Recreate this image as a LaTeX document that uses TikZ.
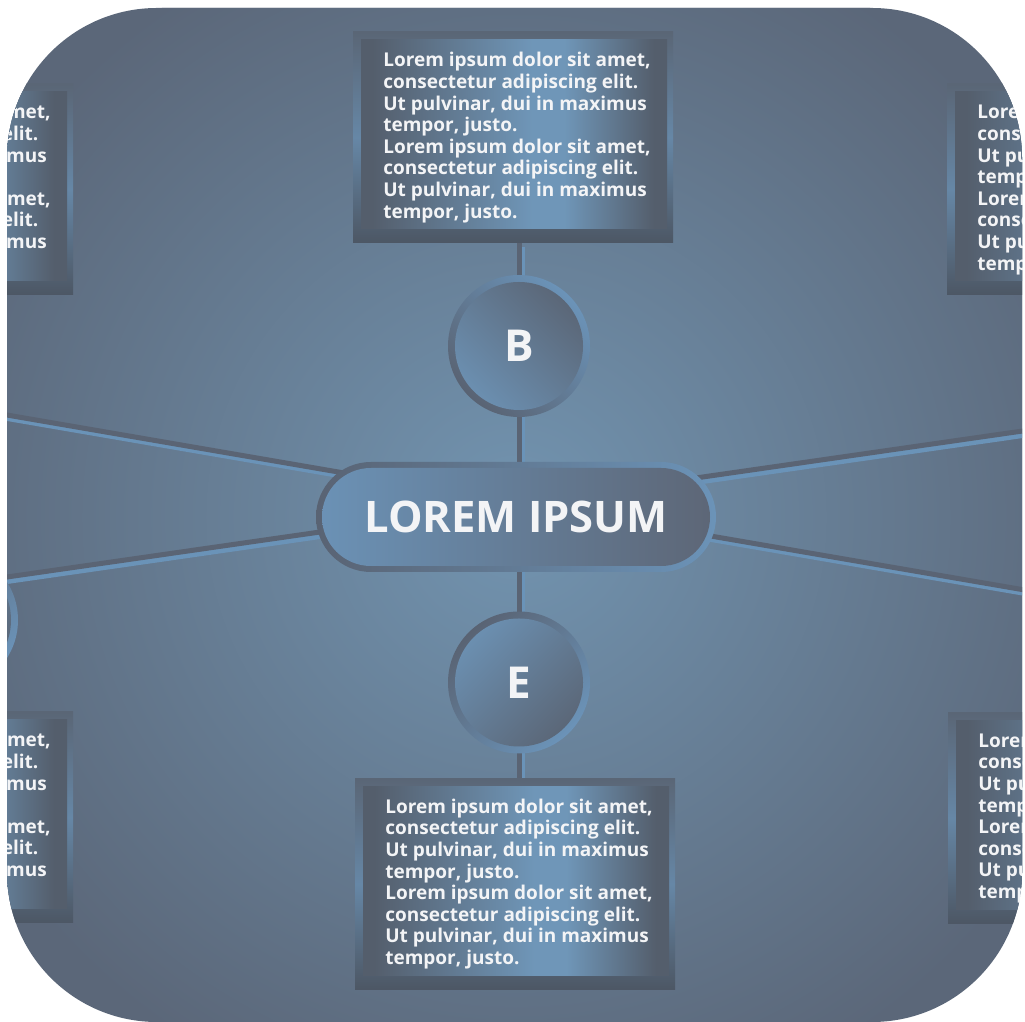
\documentclass[tikz,border=0pt]{standalone}
\usepackage{fontspec}
\setmainfont{Open Sans}
\usepackage{tikz}
\usetikzlibrary{shapes.misc, positioning}

\definecolor{bgmid}{HTML}{7294B0}
\definecolor{bgedge}{HTML}{5B6779}
\definecolor{framedark}{HTML}{5A6676}
\definecolor{framelight}{HTML}{6687A6}
\definecolor{boxdark}{HTML}{545E6C}
\definecolor{boxlight}{HTML}{6F96B8}
\definecolor{rimdark}{HTML}{596373}
\definecolor{rimlight}{HTML}{6B93B8}
\definecolor{pilllight}{HTML}{6B92B6}
\definecolor{pilldark}{HTML}{5D6676}
\definecolor{disclight}{HTML}{6C91B3}
\definecolor{discdark}{HTML}{5A6575}
\definecolor{linkdark}{HTML}{5A6474}
\definecolor{linklight}{HTML}{6A93B8}
\definecolor{txt}{HTML}{F3F4F6}

\pgfdeclarehorizontalshading{boxglow}{100bp}{color(0bp)=(boxdark); color(25bp)=(boxdark); color(28bp)=(boxdark); color(53bp)=(boxlight); color(58bp)=(boxlight); color(72bp)=(boxdark); color(75bp)=(boxdark); color(100bp)=(boxdark)}

\pgfdeclarelayer{back}
\pgfdeclarelayer{links}
\pgfsetlayers{back,links,main}

\newcommand{\frameclip}{\clip[rounded corners=150pt] (7,0) rectangle (1022,1014);}
\newcommand{\lline}[1]{\hspace*{8pt}#1}
\newcommand{\loremtext}{\lline{Lorem ipsum dolor sit amet,}\\\lline{consectetur adipiscing elit.}\\\lline{Ut pulvinar, dui in maximus}\\\lline{tempor, justo.}\\\lline{Lorem ipsum dolor sit amet,}\\\lline{consectetur adipiscing elit.}\\\lline{Ut pulvinar, dui in maximus}\\\lline{tempor, justo.}}

\tikzset{
  textbox/.style={rectangle, inner sep=0pt, minimum width=320pt, minimum height=211pt,
    top color=framedark, bottom color=framedark!85!black, middle color=framelight,
    path picture={\shade[shading=boxglow, shading angle=0]
      ([shift={(8pt,14pt)}]path picture bounding box.south west) rectangle
      ([shift={(-6pt,-8pt)}]path picture bounding box.north east);},
    text=txt, align=left, font=\fontsize{19}{21.6}\selectfont\bfseries},
  hubnode/.style={rounded rectangle, inner sep=0pt, minimum width=400pt, minimum height=110pt,
    left color=rimdark, right color=rimlight,
    path picture={\shade[left color=pilllight, right color=pilldark, rounded corners=49pt]
      ([shift={(6pt,6pt)}]path picture bounding box.south west) rectangle
      ([shift={(-6pt,-6pt)}]path picture bounding box.north east);},
    text=txt, font=\fontsize{43.5}{44}\selectfont\bfseries},
  letternode/.style={circle, inner sep=0pt, minimum size=142pt,
    top color=rimlight, bottom color=rimdark, shading angle=#1,
    path picture={\shade[top color=discdark, bottom color=disclight, shading angle=#1]
      (path picture bounding box.center) circle (64pt);},
    text=txt, font=\fontsize{44}{44}\selectfont\bfseries},
  link/.style={draw=linkdark, line width=5pt,
    preaction={draw=linklight, line width=5pt, transform canvas={shift={(3.5pt,-4pt)}}}}
}

\begin{document}
\begin{tikzpicture}[x=1pt, y=1pt]
\useasboundingbox (0,0) rectangle (1025,1022);

\begin{pgfonlayer}{back}
\fill[white] (0,0) rectangle (1025,1022);
\frameclip
\fill[bgedge] (0,0) rectangle (1025,1022);
\shade[inner color=bgmid, outer color=bgedge] (516,505) circle (620);
\end{pgfonlayer}

\begin{scope}
\frameclip
% middle column
\node[textbox] (topbox) at (513,884.5) {\loremtext};
\node[letternode=-45] (b) at (519,676) {B};
\node[hubnode] (hub) at (516,505) {LOREM IPSUM};
\node[letternode=-135] (e) at (519,339.5) {E};
\node[textbox] (botbox) at (515,138) {\loremtext};

% side boxes, cut by the frame
\node[textbox] (lefttop) at (-87,832.5) {\loremtext};
\node[textbox] (righttop) at (1107,832.5) {\loremtext};
\node[textbox] (leftbot) at (-87,204.5) {\loremtext};
\node[textbox] (rightbot) at (1108,204) {\loremtext};
\node[letternode=-135] (leftc) at (-53,402) {};
\end{scope}

\coordinate (west1) at (-20,611.6);
\coordinate (east1) at (1045,428.5);
\coordinate (west2) at (-20,441.1);
\coordinate (east2) at (1045,594.2);

% % % % % % % % % % % % % % % % % % % % % % % % % %

\begin{pgfonlayer}{links}
\frameclip
\draw[link] (topbox.south -| b) -- (botbox.north -| b);
\draw[link] (west1) -- (east1);
\draw[link] (west2) -- (east2);
\end{pgfonlayer}
\end{tikzpicture}
\end{document}
